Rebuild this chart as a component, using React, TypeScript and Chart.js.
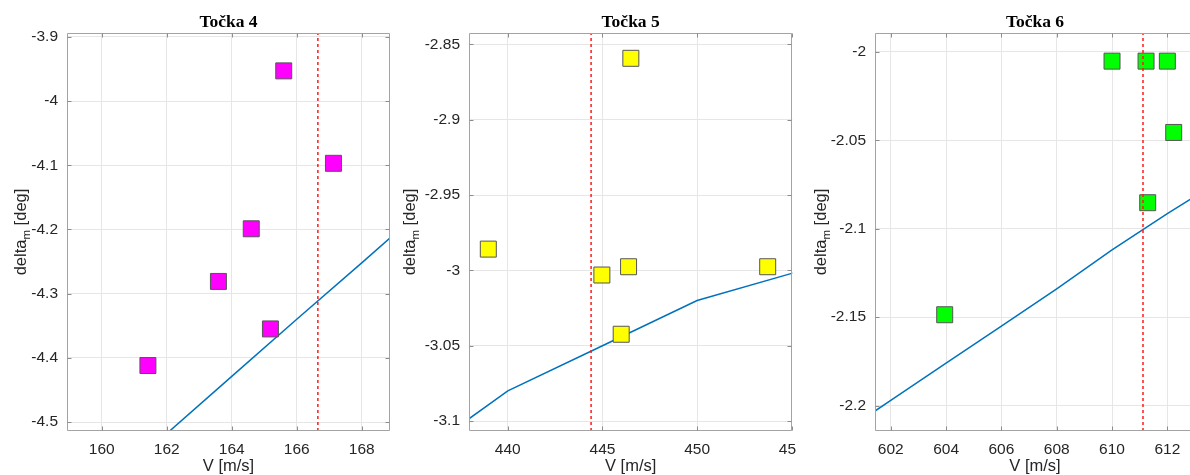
import React, { useEffect, useRef } from "react";
import { Chart, registerables } from "chart.js";

Chart.register(...registerables);

// ---------------- DATA ----------------
// Točka 4
const p4Title = "Točka 4";
const p4MeasV = [165.6, 167.13, 164.6, 163.59, 165.19, 161.42];
const p4MeasDelta = [-3.953, -4.097, -4.199, -4.281, -4.355, -4.412];
const p4ModelV = [158, 160, 162, 164, 166, 168, 170];
const p4ModelDelta = [-4.696, -4.607, -4.518, -4.429, -4.34, -4.252, -4.163];
const p4RefV = 166.65;
const p4XTicks = [160, 162, 164, 166, 168];
const p4YTicks = [-4.5, -4.4, -4.3, -4.2, -4.1, -4, -3.9];
const p4XRange = [158.93, 168.87];
const p4YRange = [-4.514, -3.894];

// Točka 5
const p5Title = "Točka 5";
const p5MeasV = [446.5, 438.97, 444.97, 446.38, 453.73, 445.99];
const p5MeasDelta = [-2.8593, -2.9859, -3.0031, -2.9976, -2.9976, -3.0424];
const p5ModelV = [435, 440, 445, 450, 455, 460];
const p5ModelDelta = [-3.125, -3.08, -3.05, -3.02, -3.002, -2.985];
const p5RefV = 444.4;
const p5XTicks = [440, 445, 450, 455];
const p5YTicks = [-3.1, -3.05, -3, -2.95, -2.9, -2.85];
const p5XRange = [437.95, 455.03];
const p5YRange = [-3.1066, -2.8425];

// Točka 6
const p6Title = "Točka 6";
const p6MeasV = [610.0, 611.23, 612.0, 612.23, 611.29, 603.95];
const p6MeasDelta = [-2.0053, -2.0053, -2.0053, -2.0456, -2.0853, -2.1486];
const p6ModelV = [600, 602, 604, 606, 608, 610, 612, 614];
const p6ModelDelta = [-2.218, -2.197, -2.176, -2.155, -2.134, -2.112, -2.0915, -2.072];
const p6RefV = 611.12;
const p6XTicks = [602, 604, 606, 608, 610, 612];
const p6YTicks = [-2.2, -2.15, -2.1, -2.05, -2];
const p6XRange = [601.43, 613.0];
const p6YRange = [-2.2143, -1.9894];

const markerColors = ["#ff00ff", "#ffff00", "#00ff00"];

const xLabel = "V [m/s]";
const yLabelMain = "delta";
const yLabelSub = "m";
const yLabelUnit = " [deg]";

// ---------------- LAYOUT ----------------
const H = 475;
const PLOT_TOP = 33;
const PLOT_BOTTOM = 431;
// canvases overlap; later canvases (white background) cover the earlier ones
const LAYOUTS = [
  { left: 0, width: 410, plotLeft: 67, plotRight: 390, labelX: 26 },
  { left: 400, width: 412, plotLeft: 69, plotRight: 392.3, labelX: 15 },
  { left: 796, width: 420, plotLeft: 79, plotRight: 399, labelX: 30 },
];

const SANS = "'Liberation Sans', Arial, Helvetica, sans-serif";
const SERIF = "'Liberation Serif', 'Times New Roman', serif";
const TEXT = "#262626";

const panels = [
  {
    title: p4Title, measV: p4MeasV, measD: p4MeasDelta, modelV: p4ModelV, modelD: p4ModelDelta,
    refV: p4RefV, xTicks: p4XTicks, yTicks: p4YTicks, xRange: p4XRange, yRange: p4YRange, color: markerColors[0],
  },
  {
    title: p5Title, measV: p5MeasV, measD: p5MeasDelta, modelV: p5ModelV, modelD: p5ModelDelta,
    refV: p5RefV, xTicks: p5XTicks, yTicks: p5YTicks, xRange: p5XRange, yRange: p5YRange, color: markerColors[1],
  },
  {
    title: p6Title, measV: p6MeasV, measD: p6MeasDelta, modelV: p6ModelV, modelD: p6ModelDelta,
    refV: p6RefV, xTicks: p6XTicks, yTicks: p6YTicks, xRange: p6XRange, yRange: p6YRange, color: markerColors[2],
  },
];

function decorPlugin(title: string, labelX: number) {
  return {
    id: "decor",
    afterDraw(chart: any) {
      const { ctx, chartArea: a } = chart;
      const xs = chart.scales.x;
      const ys = chart.scales.y;
      ctx.save();
      // frame
      ctx.strokeStyle = "#a3a3a3";
      ctx.lineWidth = 1;
      const L = Math.round(a.left) + 0.5;
      const T = Math.round(a.top) + 0.5;
      const R = Math.round(a.right) - 0.5;
      const B = Math.round(a.bottom) - 0.5;
      ctx.beginPath();
      ctx.moveTo(L, T);
      ctx.lineTo(R, T);
      ctx.lineTo(R, B);
      ctx.lineTo(L, B);
      ctx.closePath();
      ctx.stroke();
      // inward ticks
      ctx.strokeStyle = "#8c8c8c";
      ctx.beginPath();
      xs.ticks.forEach((t: any) => {
        const px = Math.round(xs.getPixelForValue(t.value)) + 0.5;
        ctx.moveTo(px, B);
        ctx.lineTo(px, B - 4);
        ctx.moveTo(px, T);
        ctx.lineTo(px, T + 4);
      });
      ys.ticks.forEach((t: any) => {
        const py = Math.round(ys.getPixelForValue(t.value)) + 0.5;
        ctx.moveTo(L, py);
        ctx.lineTo(L + 4, py);
        ctx.moveTo(R, py);
        ctx.lineTo(R - 4, py);
      });
      ctx.stroke();

      const cx = (a.left + a.right) / 2;
      // title
      ctx.fillStyle = "#000";
      ctx.font = `bold 17.5px ${SERIF}`;
      ctx.textAlign = "center";
      ctx.textBaseline = "alphabetic";
      ctx.fillText(title, cx, 26.5);

      // x label
      ctx.fillStyle = TEXT;
      ctx.font = `16.5px ${SANS}`;
      ctx.fillText(xLabel, cx, 471);

      // y label with subscript
      const cy = (a.top + a.bottom) / 2;
      const mainFont = `16.5px ${SANS}`;
      const subFont = `11.5px ${SANS}`;
      ctx.font = mainFont;
      const w1 = ctx.measureText(yLabelMain).width;
      const w3 = ctx.measureText(yLabelUnit).width;
      ctx.font = subFont;
      const w2 = ctx.measureText(yLabelSub).width;
      const total = w1 + w2 + w3;
      ctx.translate(labelX, cy);
      ctx.rotate(-Math.PI / 2);
      ctx.textAlign = "left";
      let u = -total / 2;
      ctx.font = mainFont;
      ctx.fillText(yLabelMain, u, 0);
      u += w1;
      ctx.font = subFont;
      ctx.fillText(yLabelSub, u, 3.5);
      u += w2;
      ctx.font = mainFont;
      ctx.fillText(yLabelUnit, u, 0);
      ctx.restore();
    },
  };
}

function Panel({ idx }: { idx: number }) {
  const ref = useRef<HTMLCanvasElement | null>(null);
  const p = panels[idx];
  const lay = LAYOUTS[idx];
  useEffect(() => {
    if (!ref.current) return;
    const tickFont = { family: SANS, size: 15.5 };
    const chart = new Chart(ref.current, {
      type: "scatter",
      data: {
        datasets: [
          {
            label: "ref",
            data: [
              { x: p.refV, y: p.yRange[0] },
              { x: p.refV, y: p.yRange[1] },
            ],
            showLine: true,
            borderColor: "#ff1a1a",
            borderWidth: 1.5,
            borderDash: [3, 3],
            pointRadius: 0,
            order: 0,
          },
          {
            label: "meas",
            data: p.measV.map((v, i) => ({ x: v, y: p.measD[i] })),
            showLine: false,
            pointStyle: "rect",
            pointRadius: 11.3,
            backgroundColor: p.color,
            borderColor: "#555555",
            borderWidth: 1,
            order: 1,
          },
          {
            label: "model",
            data: p.modelV.map((v, i) => ({ x: v, y: p.modelD[i] })),
            showLine: true,
            borderColor: "#0072BD",
            borderWidth: 1.5,
            pointRadius: 0,
            order: 2,
          },
        ],
      },
      options: {
        animation: false,
        responsive: false,
        events: [],
        layout: {
          padding: { top: PLOT_TOP, bottom: 0, left: 0, right: lay.width - lay.plotRight },
        },
        plugins: {
          legend: { display: false },
          tooltip: { enabled: false },
          title: { display: false },
        },
        scales: {
          x: {
            type: "linear",
            position: "bottom",
            min: p.xRange[0],
            max: p.xRange[1],
            afterBuildTicks: (s: any) => {
              s.ticks = p.xTicks.map((v) => ({ value: v }));
            },
            afterFit: (s: any) => {
              s.height = H - PLOT_BOTTOM;
              s.paddingLeft = 0;
              s.paddingRight = 0;
            },
            ticks: {
              callback: (v: any) => String(v),
              font: tickFont,
              color: TEXT,
              padding: 9,
              maxRotation: 0,
              autoSkip: false,
            },
            grid: { color: "#e6e6e6", drawTicks: false, lineWidth: 1 },
            border: { display: false },
          },
          y: {
            type: "linear",
            position: "left",
            min: p.yRange[0],
            max: p.yRange[1],
            afterBuildTicks: (s: any) => {
              s.ticks = p.yTicks.map((v) => ({ value: v }));
            },
            afterFit: (s: any) => {
              s.width = lay.plotLeft;
              s.paddingTop = 0;
              s.paddingBottom = 0;
            },
            ticks: {
              callback: (v: any) => String(v),
              font: tickFont,
              color: TEXT,
              padding: 9,
              autoSkip: false,
            },
            grid: { color: "#e6e6e6", drawTicks: false, lineWidth: 1 },
            border: { display: false },
          },
        },
      },
      plugins: [decorPlugin(p.title, lay.labelX)],
    } as any);
    return () => chart.destroy();
  }, []);
  return (
    <canvas
      ref={ref}
      width={lay.width}
      height={H}
      style={{
        position: "absolute",
        left: lay.left,
        top: 0,
        width: lay.width,
        height: H,
        background: "#ffffff",
        display: "block",
      }}
    />
  );
}

export default function App() {
  return (
    <div
      style={{
        position: "absolute",
        left: 0,
        top: 0,
        width: 1190,
        height: 475,
        overflow: "hidden",
        background: "#ffffff",
      }}
    >
      <Panel idx={0} />
      <Panel idx={1} />
      <Panel idx={2} />
    </div>
  );
}
